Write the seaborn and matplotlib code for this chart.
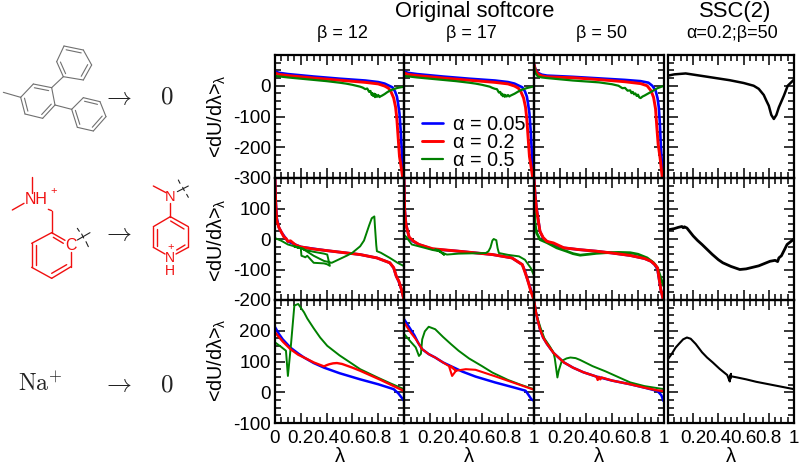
import matplotlib
matplotlib.use("Agg")
import matplotlib.pyplot as plt
from matplotlib.ticker import MultipleLocator, FixedLocator, FixedFormatter
import seaborn as sns

sns.set_theme(style="ticks")
plt.rcParams['font.family'] = ['Liberation Sans', 'DejaVu Sans']
plt.rcParams['mathtext.fontset'] = 'custom'
plt.rcParams['mathtext.rm'] = 'Liberation Sans'
plt.rcParams['mathtext.it'] = 'Liberation Sans'

BLUE, RED, GREEN = '#0000ff', '#ff0000', '#008000'

# ---- row 1 ----
a1_x_blue = [0, .03, .1, .3, .5, .7, .8, .85, .88, .91, .93, .945, .955, .965, .975, .985, .995]
a1_y_blue = [47, 42, 38, 30, 23, 17, 12, 7, 1, -5, -18, -35, -60, -90, -150, -230, -300]
a1_x_red = [0, .03, .1, .3, .5, .7, .8, .85, .88, .9, .92, .935, .945, .955, .965, .98, .99]
a1_y_red = [42, 37, 33, 25, 18, 11, 6, -1, -8, -20, -40, -70, -110, -170, -230, -270, -300]
a1_x_green = [0, .1, .2, .3, .4, .5, .55, .6, .63, .66, .68, .7, .715, .73, .74, .75, .755, .76, .77, .775, .78, .79, .8, .81, .815, .83, .85, .87, .89, .92, .95, 1]
a1_y_green = [32, 27, 23, 19, 15, 10, 7, 3, 0, -3, -6, -11, -9, -20, -17, -30, -24, -33, -26, -37, -28, -36, -30, -37, -35, -32, -27, -21, -16, -11, -7, -3]

a2_x_blue = a1_x_blue
a2_y_blue = [47, 42, 38, 30, 23, 17, 12, 7, 1, -5, -18, -35, -60, -90, -150, -230, -300]
a2_x_red = a1_x_red
a2_y_red = [42, 37, 33, 25, 18, 11, 6, -1, -8, -20, -40, -70, -110, -170, -230, -270, -300]
a2_x_green = [0, .1, .2, .3, .4, .5, .55, .6, .63, .66, .68, .7, .715, .73, .74, .75, .755, .76, .77, .775, .78, .79, .8, .81, .815, .83, .85, .87, .89, .92, .95, 1]
a2_y_green = [32, 27, 23, 19, 15, 10, 7, 3, 0, -3, -7, -10, -11, -22, -20, -30, -26, -34, -29, -36, -30, -35, -30, -35, -33, -30, -26, -21, -16, -11, -7, -2]

a3_x_blue = [0, .01, .03, .06, .1, .3, .5, .7, .82, .88, .91, .935, .95, .96, .968, .975, .985, .995]
a3_y_blue = [70, 55, 42, 36, 33, 29, 24, 19, 15, 10, 0, -15, -40, -70, -120, -190, -260, -300]
a3_x_red = [0, .01, .03, .06, .1, .3, .5, .7, .82, .87, .9, .92, .935, .945, .955, .97, .987]
a3_y_red = [70, 52, 38, 32, 29, 26, 20, 13, 7, 0, -16, -38, -75, -135, -190, -235, -300]
a3_x_green = [0, .01, .03, .06, .1, .2, .3, .4, .5, .6, .65, .68, .7, .72, .74, .75, .76, .77, .78, .79, .8, .81, .82, .835, .85, .9, .95, 1]
a3_y_green = [65, 42, 30, 27, 25, 21, 17, 14, 11, 5, 0, -8, -7, -16, -15, -24, -20, -28, -25, -33, -29, -38, -40, -35, -32, -20, -8, 0]

a4_x_black = [0, .05, .14, .3, .49, .6, .68, .72, .76, .78, .8, .82, .84, .86, .88, .92, .95, 1]
a4_y_black = [33, 37, 40, 30, 18, 9, 0, -10, -30, -48, -65, -95, -108, -95, -70, -32, 0, 20]

# ---- row 2 ----
b1_x_blue = [0, .005, .013, .03, .05, .1, .2, .4, .66, .79, .89, .92, .94, .96, .98, 1]
b1_y_blue = [200, 130, 70, 38, 22, -8, -26, -38, -51, -62, -78, -95, -122, -140, -165, -200]
b1_x_red = [0, .005, .013, .03, .046, .07, .085, .1, .12, .16, .2, .3, .4, .66, .79, .89, .92, .94, .96, .98, 1]
b1_y_red = [200, 120, 63, 38, 25, 6, 2, -8, -6, -20, -26, -33, -38, -51, -62, -78, -94, -122, -138, -165, -200]
b1_x_green = [0, .05, .1, .2, .205, .225, .235, .25, .3, .38, .405, .425, .405, .38, .3, .225, .2, .15, .22, .225, .3, .38, .44, .5, .56, .6, .66, .69, .71, .73, .75, .77, .775, .785, .79, .82, .89, .95, 1]
b1_y_green = [3, -6, -18, -30, -55, -58, -60, -55, -78, -80, -83, -88, -51, -48, -42, -35, -30, -25, -32, -35, -55, -72, -78, -66, -54, -45, -24, -5, 20, 45, 68, 74, 40, -20, -40, -45, -62, -78, -89]

b2_x_blue = [0, .005, .015, .04, .07, .115, .22, .42, .68, .83, .91, .93, .95, .975, 1]
b2_y_blue = [200, 100, 50, 3, -8, -18, -33, -40, -51, -62, -84, -105, -133, -165, -200]
b2_x_red = b2_x_blue
b2_y_red = [200, 95, 47, 6, -6, -18, -32, -40, -51, -62, -84, -108, -133, -170, -200]
b2_x_green = [0, .02, .06, .15, .22, .27, .31, .27, .24, .29, .33, .42, .63, .65, .665, .68, .69, .71, .72, .73, .8, .885, .93, .975, 1]
b2_y_green = [14, 5, -18, -28, -36, -40, -52, -37, -34, -44, -51, -48, -46, -40, -28, -5, 0, -4, -30, -46, -52, -57, -68, -95, -120]

b3_x_blue = [0, .008, .02, .046, .07, .1, .15, .23, .35, .48, .6, .74, .85, .9, .93, .95, .975, .995]
b3_y_blue = [200, 150, 100, 25, 3, -8, -18, -29, -35, -40, -46, -54, -64, -73, -85, -100, -165, -200]
b3_x_red = [0, .008, .02, .046, .07, .1, .15, .23, .35, .48, .6, .74, .85, .9, .93, .95, .975, .995]
b3_y_red = [200, 145, 95, 25, 5, -8, -13, -29, -35, -40, -46, -54, -64, -73, -84, -95, -165, -200]
b3_x_green = [0, .008, .02, .046, .1, .175, .25, .3, .355, .42, .48, .55, .65, .74, .8, .87, .92, .95, .987, 1]
b3_y_green = [120, 50, 20, -2, -12, -29, -40, -48, -53, -50, -47, -45, -44, -45, -50, -62, -78, -95, -143, -155]

b4_x_black = [0, .05, .08, .11, .12, .13, .15, .2, .235, .27, .3, .35, .4, .435, .5, .57, .62, .72, .81, .85, .87, .88, .9, .945, 1]
b4_y_black = [30, 34, 38, 41, 37, 40, 36, 10, -5, -18, -30, -50, -68, -78, -90, -100, -98, -88, -73, -70, -74, -62, -55, -18, 0]

# ---- row 3 ----
c1_x_blue = [0, .03, .06, .12, .18, .225, .3, .38, .5, .66, .8, .92, .955, .99, 1]
c1_y_blue = [212, 190, 172, 145, 126, 113, 95, 80, 62, 42, 26, 10, -3, -22, -28]
c1_x_red = [0, .03, .06, .12, .18, .225, .3, .38, .4, .42, .45, .48, .52, .6, .66, .74, .815, .9, 1]
c1_y_red = [195, 180, 165, 140, 122, 113, 97, 84, 88, 91, 94, 95, 92, 80, 70, 55, 41, 24, 4]
c1_x_green = [0, .04, .085, .1, .123, .15, .18, .225, .25, .3, .35, .405, .5, .6, .66, .8, .9, 1]
c1_y_green = [162, 150, 135, 53, 151, 282, 287, 260, 240, 208, 178, 151, 120, 92, 75, 47, 28, 10]

c2_x_blue = [0, .02, .05, .08, .11, .14, .19, .24, .3, .37, .45, .55, .7, .85, .935, .96, .98, 1]
c2_y_blue = [238, 225, 205, 185, 160, 140, 124, 113, 97, 83, 67, 51, 32, 15, 5, -10, -23, -28]
c2_x_red = [0, .05, .09, .14, .19, .24, .3, .346, .37, .4, .37, .36, .4, .475, .55, .7, .85, 1]
c2_y_red = [227, 195, 173, 140, 124, 113, 97, 85, 53, 70, 80, 85, 70, 75, 73, 52, 30, 8]
c2_x_green = [0, .05, .09, .115, .13, .14, .16, .19, .24, .3, .36, .42, .5, .6, .68, .8, .9, 1]
c2_y_green = [190, 165, 146, 118, 125, 172, 198, 213, 205, 180, 157, 135, 110, 85, 64, 40, 24, 10]

c3_x_blue = [0, .015, .03, .046, .07, .1, .15, .23, .3, .38, .48, .6, .74, .85, .95, .98, .995]
c3_y_blue = [300, 260, 232, 205, 178, 157, 128, 97, 80, 65, 51, 38, 26, 15, 4, -10, -28]
c3_x_red = [0, .015, .03, .046, .07, .1, .15, .23, .3, .38, .48, .49, .5, .51, .52, .6, .74, .85, .95, 1]
c3_y_red = [300, 260, 232, 205, 178, 157, 128, 97, 80, 65, 51, 40, 50, 42, 48, 38, 26, 15, 6, 4]
c3_x_green = [0, .02, .05, .08, .12, .15, .16, .18, .19, .214, .25, .28, .32, .355, .45, .55, .65, .74, .85, 1]
c3_y_green = [300, 250, 210, 175, 150, 129, 110, 48, 70, 102, 110, 113, 111, 105, 85, 68, 49, 32, 20, 10]

c4_x_black = [0, .03, .06, .086, .12, .15, .18, .22, .27, .31, .355, .41, .47, .49, .5, .49, .5, .49, .5, .55, .62, .7, .8, .9, 1]
c4_y_black = [108, 125, 145, 157, 172, 178, 174, 157, 130, 113, 97, 76, 56, 35, 60, 38, 58, 44, 52, 48, 42, 34, 26, 18, 10]

# ---- text ----
col_titles = ['β = 12', 'β = 17', 'β = 50', 'α=0.2;β=50']
col_title_centres = [342, 471, 601, 732]
legend_labels = ['α = 0.05', 'α = 0.2', 'α = 0.5']
x_tick_values = [0, .2, .4, .6, .8, 1]
x_tick_first = ['0', '0.2', '0.4', '0.6', '0.8', '1']
x_tick_other = ['', '0.2', '0.4', '0.6', '0.8', '1']
row_limits = [(-300, 100), (-200, 200), (-100, 300)]
row_ticks = [[0, -100, -200, -300], [100, 0, -100, -200], [200, 100, 0, -100]]

W, H = 801, 467
fig = plt.figure(figsize=(W / 100, H / 100), dpi=100, facecolor='white')


def make_axes(left, top, right, bottom):
    return fig.add_axes([left / W, 1 - bottom / H, (right - left) / W, (bottom - top) / H])


col_edges = [(275, 404), (404, 534), (534, 664), (668, 794)]
row_edges = [(55, 178), (178, 300), (300, 423)]

panels = [
    [[(a1_x_blue, a1_y_blue, BLUE, 1.9), (a1_x_red, a1_y_red, RED, 2.1), (a1_x_green, a1_y_green, GREEN, 1.6)],
     [(a2_x_blue, a2_y_blue, BLUE, 1.9), (a2_x_red, a2_y_red, RED, 2.1), (a2_x_green, a2_y_green, GREEN, 1.6)],
     [(a3_x_blue, a3_y_blue, BLUE, 1.9), (a3_x_red, a3_y_red, RED, 2.1), (a3_x_green, a3_y_green, GREEN, 1.6)],
     [(a4_x_black, a4_y_black, 'black', 1.8)]],
    [[(b1_x_blue, b1_y_blue, BLUE, 1.9), (b1_x_red, b1_y_red, RED, 2.1), (b1_x_green, b1_y_green, GREEN, 1.4)],
     [(b2_x_blue, b2_y_blue, BLUE, 1.9), (b2_x_red, b2_y_red, RED, 2.1), (b2_x_green, b2_y_green, GREEN, 1.4)],
     [(b3_x_blue, b3_y_blue, BLUE, 1.9), (b3_x_green, b3_y_green, GREEN, 2.0), (b3_x_red, b3_y_red, RED, 2.1)],
     [(b4_x_black, b4_y_black, 'black', 2.0)]],
    [[(c1_x_blue, c1_y_blue, BLUE, 1.8), (c1_x_green, c1_y_green, GREEN, 1.4), (c1_x_red, c1_y_red, RED, 1.7)],
     [(c2_x_blue, c2_y_blue, BLUE, 1.8), (c2_x_green, c2_y_green, GREEN, 1.4), (c2_x_red, c2_y_red, RED, 1.5)],
     [(c3_x_blue, c3_y_blue, BLUE, 1.8), (c3_x_green, c3_y_green, GREEN, 1.4), (c3_x_red, c3_y_red, RED, 1.7)],
     [(c4_x_black, c4_y_black, 'black', 1.5)]],
]

axes = {}
for r, (top, bottom) in enumerate(row_edges):
    for c, (left, right) in enumerate(col_edges):
        ax = make_axes(left, top, right, bottom)
        axes[r, c] = ax
        for xs, ys, color, lw in panels[r][c]:
            sns.lineplot(x=xs, y=ys, color=color, lw=lw, sort=False, estimator=None,
                         errorbar=None, ax=ax)
        ax.set_xlim(0, 1)
        ax.set_ylim(*row_limits[r])
        for s in ax.spines.values():
            s.set_linewidth(1.6)
            s.set_color('black')
        ax.xaxis.set_major_locator(FixedLocator(x_tick_values))
        ax.xaxis.set_minor_locator(MultipleLocator(0.05))
        ax.yaxis.set_major_locator(MultipleLocator(100))
        ax.yaxis.set_minor_locator(MultipleLocator(25))
        ax.tick_params(which='major', direction='in', top=True, right=True, length=7.5, width=1.1,
                       color='black', labelcolor='black', labelsize=13.6, pad=3)
        ax.tick_params(which='minor', direction='in', top=True, right=True, length=4, width=1.1,
                       color='black')
        ax.tick_params(axis='x', which='major', pad=5)
        ax.set_xlabel('')
        ax.set_ylabel('')
        ax.patch.set_alpha(0)
        if r == 2:
            ax.xaxis.set_major_formatter(FixedFormatter(x_tick_first if c == 0 else x_tick_other))
            ax.set_xlabel('λ', fontsize=14.5, labelpad=0, color='black')
        else:
            ax.tick_params(axis='x', which='both', labelbottom=False)
        if c == 0:
            ax.yaxis.set_major_locator(FixedLocator(row_ticks[r]))
            ax.yaxis.set_minor_locator(MultipleLocator(25))
            ax.set_yticklabels([str(v) for v in row_ticks[r]])
        else:
            ax.tick_params(axis='y', which='both', labelleft=False)

# legend in the top row, second panel, above its neighbours
axes[0, 1].set_zorder(4)
handles = axes[0, 1].get_lines()[:3]
axes[0, 1].legend(handles, legend_labels, frameon=False, fontsize=14.2, loc='upper left',
                  bbox_to_anchor=(0.138, 0.515), labelspacing=-0.04, handlelength=1.05,
                  handletextpad=0.5, borderpad=0, borderaxespad=0, labelcolor='black')

# overlay in pixel coordinates for titles and molecule sketches
ov = fig.add_axes([0, 0, 1, 1], zorder=5)
ov.set_xlim(0, W)
ov.set_ylim(H, 0)
ov.axis('off')
ov.patch.set_alpha(0)

ov.text(475, 12, 'Original softcore', ha='center', va='center', fontsize=15.8, color='black')
ov.text(735, 12, 'SSC(2)', ha='center', va='center', fontsize=15.8, color='black')
for t, cx in zip(col_titles, col_title_centres):
    ov.text(cx, 34, t, ha='center', va='center', fontsize=13, color='black')

for ylab in (116, 240, 360):
    ov.text(217, ylab, '<dU/dλ>$_{λ}$', rotation=90, ha='center', va='center', fontsize=14.2,
            color='black')


def Z(pts, dx=0, dy=0):
    return [(p[0] / 3 + dx, p[1] / 3 + dy) for p in pts]


def seg(a, b, color, lw=0.8):
    ov.plot([a[0], b[0]], [a[1], b[1]], color=color, lw=lw, solid_capstyle='round')


def ring(pts, doubles, color, lw=0.8, inset=0.78):
    n = len(pts)
    cx = sum(p[0] for p in pts) / n
    cy = sum(p[1] for p in pts) / n
    for i in range(n):
        seg(pts[i], pts[(i + 1) % n], color, lw)
    for i in doubles:
        a, b = pts[i], pts[(i + 1) % n]
        ia = (cx + (a[0] - cx) * inset, cy + (a[1] - cy) * inset)
        ib = (cx + (b[0] - cx) * inset, cy + (b[1] - cy) * inset)
        seg(ia, ib, color, lw)


GRAY = '#707070'
ring(Z([(62, 232), (100, 192), (155, 203), (165, 255), (128, 295), (75, 282)], 0, 20), [1, 3, 5], GRAY)
ring(Z([(170, 125), (192, 78), (250, 90), (275, 135), (250, 180), (190, 170)], 0, 20), [1, 3, 5], GRAY)
ring(Z([(215, 268), (250, 233), (300, 245), (318, 290), (280, 333), (232, 322)], 0, 20), [1, 3, 5], GRAY)
for a, b in [((10, 217), (62, 232)), ((155, 203), (190, 170)), ((165, 255), (215, 268))]:
    p, q = Z([a, b], 0, 20)
    seg(p, q, GRAY)

# left red molecule
R = '#f01010'
ring_pts = Z([(155, 218), (213, 252), (213, 320), (155, 355), (95, 322), (95, 250)], 0, 160)
for i in (2, 3, 4, 5):
    seg(ring_pts[i], ring_pts[(i + 1) % 6], R, 1.0)
seg(Z([(213, 275)], 0, 160)[0], ring_pts[2], R, 1.0)
seg(ring_pts[0], Z([(195, 241)], 0, 160)[0], R, 1.0)
for a, b in [((160, 232), (190, 250)), ((108, 255), (108, 315)), ((155, 340), (200, 314))]:
    p, q = Z([a, b], 0, 160)
    seg(p, q, R, 1.0)
for a, b in [((95, 50), (95, 100)), ((37, 150), (72, 130)), ((145, 148), (155, 152)), ((155, 152), (155, 218))]:
    p, q = Z([a, b], 0, 160)
    seg(p, q, R, 1.0)
x, y = Z([(110, 120)], 0, 160)[0]
ov.text(x, y, 'NH', color=R, fontsize=11.5, ha='center', va='center')
x, y = Z([(162, 93)], 0, 160)[0]
ov.text(x, y, '+', color=R, fontsize=8, ha='center', va='center')
x, y = Z([(212, 258)], 0, 160)[0]
ov.text(x, y, 'C', color=R, fontsize=11.5, ha='center', va='center')
for a, b in [((232, 240), (270, 218)), ((232, 205), (238, 214)), ((245, 222), (251, 234)), ((258, 245), (265, 260))]:
    p, q = Z([a, b], 0, 160)
    seg(p, q, '#222222', 0.8)

# right red molecule
for a, b in [((460, 78), (498, 98)), ((511, 128), (511, 170)), ((511, 170), (565, 200)), ((565, 200), (565, 262)),
             ((565, 262), (528, 282)), ((511, 170), (460, 200)), ((460, 200), (460, 262)), ((460, 262), (495, 282)),
             ((472, 207), (472, 257)), ((512, 183), (552, 207)), ((530, 270), (555, 255))]:
    p, q = Z([a, b], 0, 160)
    seg(p, q, R, 1.0)
for txt, pos, fs in [('N', (511, 110), 10.5), ('N', (511, 295), 10), ('H', (511, 333), 10), ('+', (511, 260), 8)]:
    x, y = Z([pos], 0, 160)[0]
    ov.text(x, y, txt, color=R, fontsize=fs, ha='center', va='center')
for a, b in [((532, 95), (565, 78)), ((535, 60), (540, 70)), ((548, 82), (553, 92)), ((560, 103), (565, 112))]:
    p, q = Z([a, b], 0, 160)
    seg(p, q, '#222222', 0.8)

# reaction arrows and labels
for ya in (97, 233, 384):
    ov.text(117, ya, r'$\rightarrow$', fontsize=18, ha='center', va='center', color='#222222',
            math_fontfamily='cm')
for ya in (96, 384):
    ov.text(167, ya, r'$\mathrm{0}$', fontsize=18, ha='center', va='center', color='#222222',
            math_fontfamily='cm')
ov.text(40, 384, r'$\mathrm{Na}^{+}$', fontsize=17, ha='center', va='center', color='#222222',
        math_fontfamily='cm')

fig.savefig('out.png', dpi=100, facecolor='white')
